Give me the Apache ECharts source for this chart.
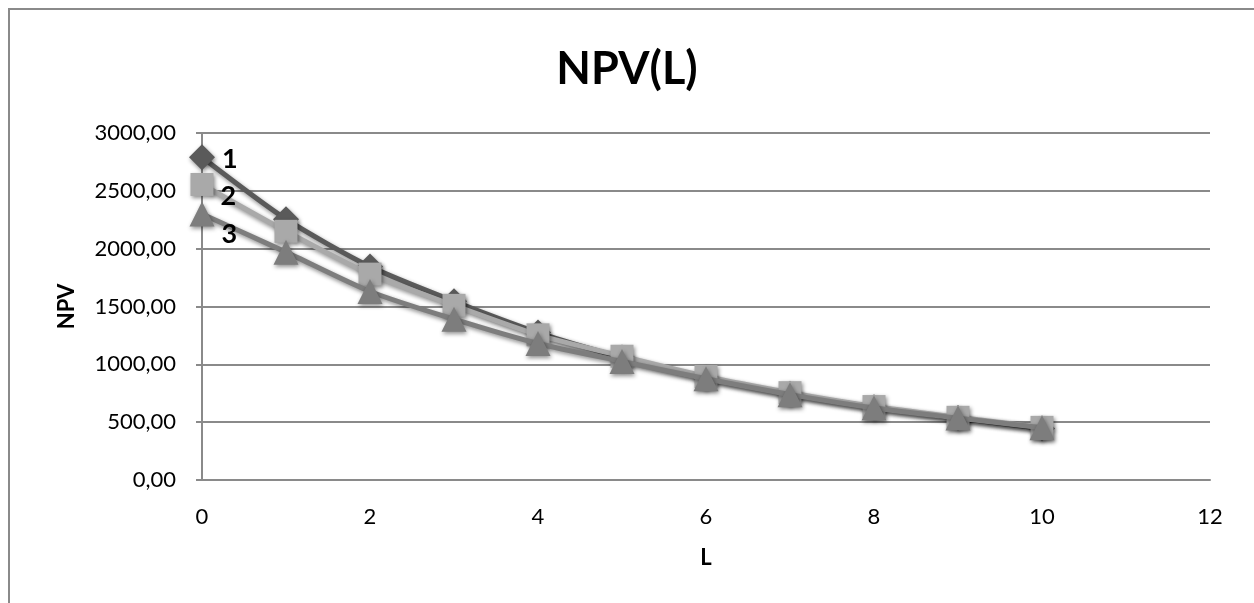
<!DOCTYPE html>
<html>
<head>
<meta charset="utf-8">
<script src="https://cdn.jsdelivr.net/npm/echarts@6/dist/echarts.min.js"></script>
<style>
html,body{margin:0;padding:0;background:#fff;}
#chart{width:1254px;height:603px;}
</style>
</head>
<body>
<div id="chart"></div>
<script>
const L = [0, 1, 2, 3, 4, 5, 6, 7, 8, 9, 10];
const npv1 = [2790, 2255, 1845, 1545, 1275, 1060, 885, 745, 630, 535, 445];
const npv2 = [2555, 2150, 1780, 1510, 1255, 1070, 895, 755, 635, 542, 455];
const npv3 = [2300, 1970, 1630, 1390, 1180, 1025, 875, 738, 622, 535, 452];
const seriesNames = ['1', '2', '3'];
const xTicks = [0, 2, 4, 6, 8, 10, 12];
const yTicks = [0, 500, 1000, 1500, 2000, 2500, 3000];

const FONT = 'Lato';
function pts(vals, labelOffset) {
  return vals.map((v, i) => {
    const item = { value: [L[i], v] };
    if (i === 0) {
      item.label = {
        show: true, position: 'right', offset: labelOffset,
        formatter: '{a}', fontFamily: FONT, fontWeight: 'bold', fontSize: 27, color: '#000'
      };
    }
    return item;
  });
}
const shadow = { shadowBlur: 4, shadowColor: 'rgba(0,0,0,0.45)', shadowOffsetX: 1, shadowOffsetY: 2 };

const chart = echarts.init(document.getElementById('chart'));
chart.setOption({
  backgroundColor: '#fff',
  animation: false,
  title: {
    text: 'NPV(L)', left: 'center', top: 42,
    textStyle: { fontFamily: FONT, fontWeight: 'bold', fontSize: 45, color: '#000' }
  },
  graphic: [{
    type: 'rect', shape: { x: 9, y: 9, width: 1400, height: 800 },
    style: { fill: 'none', stroke: '#8a8a8a', lineWidth: 2 }, silent: true, z: -1
  }],
  grid: { left: 202, right: 44, top: 133, bottom: 123, containLabel: false },
  xAxis: {
    type: 'value', min: xTicks[0], max: xTicks[xTicks.length - 1], interval: 2,
    name: 'L', nameLocation: 'middle', nameGap: 67,
    nameTextStyle: { fontFamily: FONT, fontWeight: 'bold', fontSize: 22, color: '#000' },
    axisLine: { show: true, lineStyle: { color: '#8a8a8a', width: 2 } },
    axisTick: { show: false },
    splitLine: { show: false },
    axisLabel: { fontFamily: FONT, fontSize: 22, color: '#000', margin: 26 }
  },
  yAxis: {
    type: 'value', min: yTicks[0], max: yTicks[yTicks.length - 1], interval: 500,
    name: 'NPV', nameLocation: 'middle', nameGap: 124, nameRotate: 90,
    nameTextStyle: { fontFamily: FONT, fontWeight: 'bold', fontSize: 22, color: '#000' },
    axisLine: { show: true, lineStyle: { color: '#8a8a8a', width: 2 } },
    axisTick: { show: true, length: 6, inside: false, lineStyle: { color: '#8a8a8a', width: 2 } },
    splitLine: { show: true, lineStyle: { color: '#8a8a8a', width: 2 } },
    axisLabel: {
      fontFamily: FONT, fontSize: 22, color: '#000', margin: 26,
      formatter: v => v.toFixed(2).replace('.', ',')
    }
  },
  series: [
    {
      name: seriesNames[2], type: 'line', data: pts(npv3, [2, 20]), smooth: 0.25,
      symbol: 'triangle', symbolSize: 25,
      lineStyle: Object.assign({ color: '#7d7d7d', width: 5 }, shadow),
      itemStyle: Object.assign({ color: '#7d7d7d' }, shadow), z: 3
    },
    {
      name: seriesNames[1], type: 'line', data: pts(npv2, [2, 12]), smooth: 0.25,
      symbol: 'rect', symbolSize: 23,
      lineStyle: Object.assign({ color: '#a9a9a9', width: 5 }, shadow),
      itemStyle: Object.assign({ color: '#a9a9a9' }, shadow), z: 2
    },
    {
      name: seriesNames[0], type: 'line', data: pts(npv1, [2, 2]), smooth: 0.25,
      symbol: 'diamond', symbolSize: 26,
      lineStyle: Object.assign({ color: '#5a5a5a', width: 5 }, shadow),
      itemStyle: Object.assign({ color: '#5a5a5a' }, shadow), z: 1
    }
  ]
});
</script>
</body>
</html>
